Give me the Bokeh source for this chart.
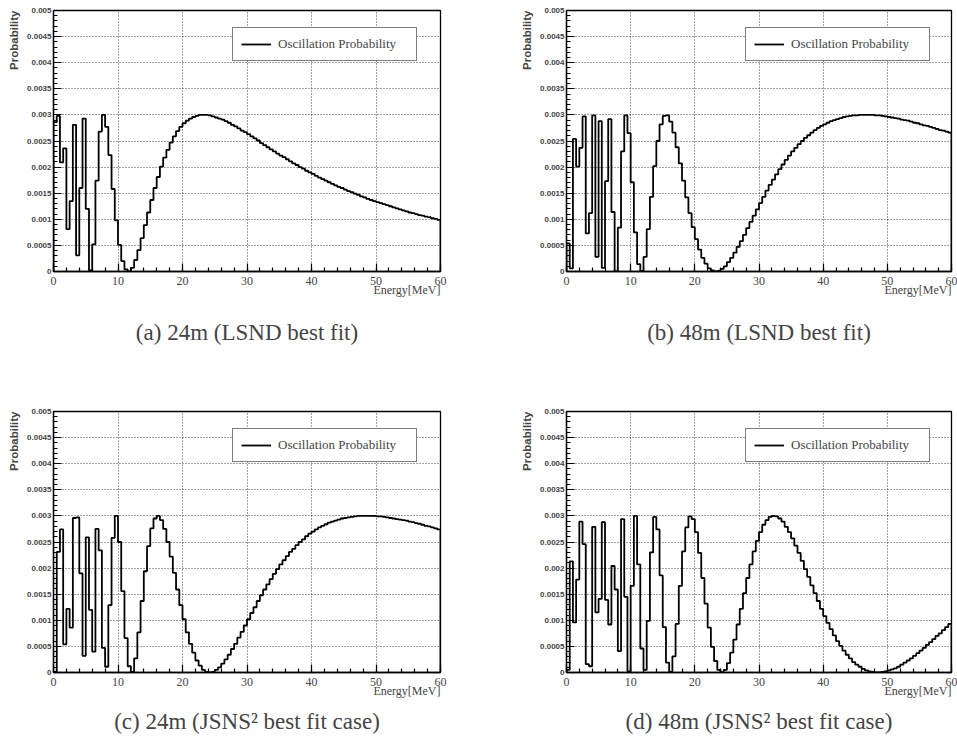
import numpy as np
from bokeh.plotting import figure
from bokeh.models import (Range1d, SingleIntervalTicker, NumeralTickFormatter,
                          Title, Legend, LegendItem)
from bokeh.layouts import row, column
from bokeh.embed import file_html
from bokeh.resources import INLINE

# ---------------- data ----------------
E_MIN, E_MAX = 0.0, 60.0          # energy axis range [MeV]
x_tick_values = [0, 10, 20, 30, 40, 50, 60]
y_tick_values = [0, 0.0005, 0.001, 0.0015, 0.002, 0.0025, 0.003,
                 0.0035, 0.004, 0.0045, 0.005]
x_title = "Energy[MeV]"
y_title = "Probability"
legend_text = "Oscillation Probability"

caption_a = "(a) 24m (LSND best fit)"
caption_b = "(b) 48m (LSND best fit)"
caption_c = "(c) 24m (JSNS\u00b2 best fit case)"
caption_d = "(d) 48m (JSNS\u00b2 best fit case)"

# bin contents, 0.5 MeV bins from 0 to 60 MeV
prob_24m_lsnd = [
    0.00286, 0.00298, 0.00209, 0.00236, 0.00081, 0.00135, 0.00281, 0.00031, 0.00160, 0.00293,
    0.00120, 0.00002, 0.00052, 0.00174, 0.00268, 0.00300, 0.00277, 0.00223, 0.00158, 0.00098,
    0.00051, 0.00020, 0.00004, 0.00000, 0.00007, 0.00022, 0.00041, 0.00064, 0.00089, 0.00113,
    0.00137, 0.00160, 0.00181, 0.00201, 0.00218, 0.00233, 0.00247, 0.00259, 0.00269, 0.00277,
    0.00284, 0.00289, 0.00293, 0.00296, 0.00298, 0.00300, 0.00300, 0.00300, 0.00299, 0.00297,
    0.00295, 0.00293, 0.00291, 0.00288, 0.00285, 0.00281, 0.00278, 0.00274, 0.00270, 0.00267,
    0.00263, 0.00259, 0.00255, 0.00251, 0.00246, 0.00242, 0.00238, 0.00234, 0.00230, 0.00226,
    0.00222, 0.00219, 0.00215, 0.00211, 0.00207, 0.00204, 0.00200, 0.00197, 0.00193, 0.00190,
    0.00187, 0.00183, 0.00180, 0.00177, 0.00174, 0.00171, 0.00168, 0.00165, 0.00162, 0.00160,
    0.00157, 0.00154, 0.00152, 0.00149, 0.00147, 0.00144, 0.00142, 0.00139, 0.00137, 0.00135,
    0.00133, 0.00131, 0.00129, 0.00127, 0.00125, 0.00123, 0.00121, 0.00119, 0.00117, 0.00115,
    0.00113, 0.00112, 0.00110, 0.00108, 0.00107, 0.00105, 0.00104, 0.00102, 0.00101, 0.00099,
]
prob_48m_lsnd = [
    0.00054, 0.00006, 0.00254, 0.00201, 0.00237, 0.00297, 0.00073, 0.00112, 0.00299, 0.00028,
    0.00288, 0.00007, 0.00173, 0.00292, 0.00114, 0.00000, 0.00084, 0.00230, 0.00299, 0.00265,
    0.00171, 0.00075, 0.00014, 0.00001, 0.00028, 0.00081, 0.00143, 0.00202, 0.00250, 0.00282,
    0.00298, 0.00299, 0.00287, 0.00266, 0.00238, 0.00207, 0.00174, 0.00142, 0.00112, 0.00085,
    0.00062, 0.00042, 0.00026, 0.00015, 0.00006, 0.00002, 0.00000, 0.00001, 0.00005, 0.00010,
    0.00018, 0.00026, 0.00036, 0.00047, 0.00058, 0.00070, 0.00083, 0.00095, 0.00107, 0.00119,
    0.00131, 0.00143, 0.00155, 0.00166, 0.00176, 0.00186, 0.00196, 0.00205, 0.00214, 0.00222,
    0.00230, 0.00237, 0.00244, 0.00250, 0.00256, 0.00261, 0.00266, 0.00271, 0.00275, 0.00279,
    0.00282, 0.00285, 0.00288, 0.00290, 0.00292, 0.00294, 0.00296, 0.00297, 0.00298, 0.00299,
    0.00299, 0.00300, 0.00300, 0.00300, 0.00300, 0.00300, 0.00299, 0.00299, 0.00298, 0.00297,
    0.00296, 0.00295, 0.00294, 0.00293, 0.00291, 0.00290, 0.00289, 0.00287, 0.00285, 0.00284,
    0.00282, 0.00280, 0.00279, 0.00277, 0.00275, 0.00273, 0.00271, 0.00270, 0.00268, 0.00266,
]
prob_24m_jsns2 = [
    0.00001, 0.00231, 0.00274, 0.00054, 0.00122, 0.00086, 0.00296, 0.00297, 0.00190, 0.00032,
    0.00259, 0.00120, 0.00040, 0.00275, 0.00234, 0.00047, 0.00011, 0.00129, 0.00258, 0.00300,
    0.00250, 0.00156, 0.00066, 0.00012, 0.00001, 0.00027, 0.00077, 0.00137, 0.00194, 0.00242,
    0.00276, 0.00295, 0.00300, 0.00292, 0.00275, 0.00250, 0.00222, 0.00191, 0.00159, 0.00129,
    0.00102, 0.00077, 0.00055, 0.00038, 0.00023, 0.00013, 0.00005, 0.00001, 0.00000, 0.00001,
    0.00005, 0.00010, 0.00017, 0.00025, 0.00034, 0.00045, 0.00055, 0.00067, 0.00078, 0.00090,
    0.00102, 0.00114, 0.00125, 0.00137, 0.00148, 0.00159, 0.00169, 0.00179, 0.00189, 0.00198,
    0.00207, 0.00215, 0.00223, 0.00231, 0.00237, 0.00244, 0.00250, 0.00255, 0.00261, 0.00266,
    0.00270, 0.00274, 0.00278, 0.00281, 0.00284, 0.00287, 0.00289, 0.00291, 0.00293, 0.00295,
    0.00296, 0.00297, 0.00298, 0.00299, 0.00300, 0.00300, 0.00300, 0.00300, 0.00300, 0.00300,
    0.00299, 0.00299, 0.00298, 0.00297, 0.00296, 0.00295, 0.00294, 0.00293, 0.00292, 0.00291,
    0.00289, 0.00288, 0.00286, 0.00285, 0.00283, 0.00281, 0.00280, 0.00278, 0.00276, 0.00274,
]
prob_48m_jsns2 = [
    0.00005, 0.00213, 0.00096, 0.00178, 0.00289, 0.00246, 0.00016, 0.00012, 0.00279, 0.00115,
    0.00141, 0.00288, 0.00139, 0.00092, 0.00204, 0.00159, 0.00041, 0.00294, 0.00145, 0.00002,
    0.00166, 0.00300, 0.00207, 0.00046, 0.00005, 0.00099, 0.00230, 0.00298, 0.00274, 0.00186,
    0.00087, 0.00019, 0.00001, 0.00031, 0.00093, 0.00166, 0.00232, 0.00278, 0.00299, 0.00294,
    0.00269, 0.00229, 0.00181, 0.00132, 0.00086, 0.00049, 0.00022, 0.00005, 0.00000, 0.00005,
    0.00018, 0.00038, 0.00063, 0.00092, 0.00122, 0.00152, 0.00181, 0.00207, 0.00232, 0.00252,
    0.00269, 0.00283, 0.00292, 0.00298, 0.00300, 0.00299, 0.00295, 0.00289, 0.00279, 0.00269,
    0.00257, 0.00243, 0.00229, 0.00214, 0.00198, 0.00183, 0.00167, 0.00152, 0.00137, 0.00122,
    0.00108, 0.00095, 0.00083, 0.00071, 0.00060, 0.00051, 0.00042, 0.00034, 0.00027, 0.00020,
    0.00015, 0.00011, 0.00007, 0.00004, 0.00002, 0.00001, 0.00000, 0.00000, 0.00001, 0.00002,
    0.00004, 0.00006, 0.00008, 0.00011, 0.00015, 0.00019, 0.00023, 0.00027, 0.00032, 0.00037,
    0.00042, 0.00047, 0.00053, 0.00058, 0.00064, 0.00070, 0.00075, 0.00081, 0.00087, 0.00093,
]

SERIF = "Liberation Serif"
SANS = "Liberation Sans"


def make_panel(values, caption, frame_w, border_right, border_bottom, caption_standoff):
    vals = np.asarray(values, dtype=float)
    edges = np.linspace(E_MIN, E_MAX, len(vals) + 1)
    xs = np.concatenate([[edges[0]], edges[:-1], [edges[-1], edges[-1]]])
    ys = np.concatenate([[0.0], vals, [vals[-1], 0.0]])

    p = figure(frame_width=frame_w, frame_height=261,
               x_range=Range1d(E_MIN, E_MAX),
               y_range=Range1d(y_tick_values[0], y_tick_values[-1]),
               output_backend="svg", toolbar_location=None,
               min_border_left=53, min_border_right=border_right,
               min_border_top=10, min_border_bottom=border_bottom,
               background_fill_color="white", border_fill_color="white")
    p.title.visible = False
    p.outline_line_color = "black"
    p.outline_line_width = 1.3

    r = p.step(xs, ys, mode="after", line_color="black", line_width=1.8)

    xt = SingleIntervalTicker(interval=x_tick_values[1] - x_tick_values[0], num_minor_ticks=5)
    yt = SingleIntervalTicker(interval=y_tick_values[1] - y_tick_values[0], num_minor_ticks=5)
    p.xaxis.ticker = xt
    p.yaxis.ticker = yt
    p.xgrid.ticker = xt
    p.ygrid.ticker = yt
    for g in (p.xgrid, p.ygrid):
        g.grid_line_color = "black"
        g.grid_line_dash = "1 2"
        g.grid_line_width = 1
        g.grid_line_alpha = 0.75

    for ax in (p.xaxis, p.yaxis):
        ax.axis_line_color = "black"
        ax.axis_line_width = 1.3
        ax.major_tick_in = 8
        ax.major_tick_out = 0
        ax.minor_tick_in = 4
        ax.minor_tick_out = 0
        ax.major_tick_line_color = "black"
        ax.minor_tick_line_color = "black"
        ax.major_tick_line_width = 1.2
        ax.minor_tick_line_width = 1.2

    p.xaxis.major_label_text_font = SERIF
    p.xaxis.major_label_text_font_size = "12px"
    p.xaxis.major_label_standoff = 5
    p.yaxis.major_label_text_font = SANS
    p.yaxis.major_label_text_font_style = "bold"
    p.yaxis.major_label_text_font_size = "8px"
    p.yaxis.major_label_standoff = 2
    p.yaxis.formatter = NumeralTickFormatter(format="0.[0000]")

    legend = Legend(items=[LegendItem(label=legend_text, renderers=[r])],
                    location=(179, 210), margin=0, padding=8, spacing=0,
                    glyph_width=30, glyph_height=16, label_height=16,
                    label_width=130, label_standoff=7,
                    label_text_font=SERIF, label_text_font_size="13px",
                    border_line_color="black", border_line_width=1.5,
                    background_fill_color="white", background_fill_alpha=1.0)
    p.add_layout(legend)

    # x-axis title, right-aligned at the end of the axis, tucked under the labels
    et = Title(text=x_title, align="right", vertical_align="top",
               text_font=SERIF, text_font_size="12px", text_font_style="normal",
               standoff=0)
    try:
        et.standoff = -10
        extra = 18
    except Exception:
        extra = -2
    p.add_layout(et, "below")

    p.add_layout(Title(text=caption, align="center", text_font=SERIF,
                       text_font_size="23px", text_font_style="normal",
                       standoff=caption_standoff + extra), "below")
    p.add_layout(Title(text=y_title, align="right", text_font=SANS,
                       text_font_size="11.5px", text_font_style="bold",
                       standoff=9), "left")
    return p


pa = make_panel(prob_24m_lsnd, caption_a, 387, 73, 130, 30)
pb = make_panel(prob_48m_lsnd, caption_b, 385, 6, 130, 30)
pc = make_panel(prob_24m_jsns2, caption_c, 387, 73, 78, 7)
pd = make_panel(prob_48m_jsns2, caption_d, 385, 6, 78, 7)

layout = column(row(pa, pb), row(pc, pd))
open("out.html", "w").write(file_html(layout, INLINE))
